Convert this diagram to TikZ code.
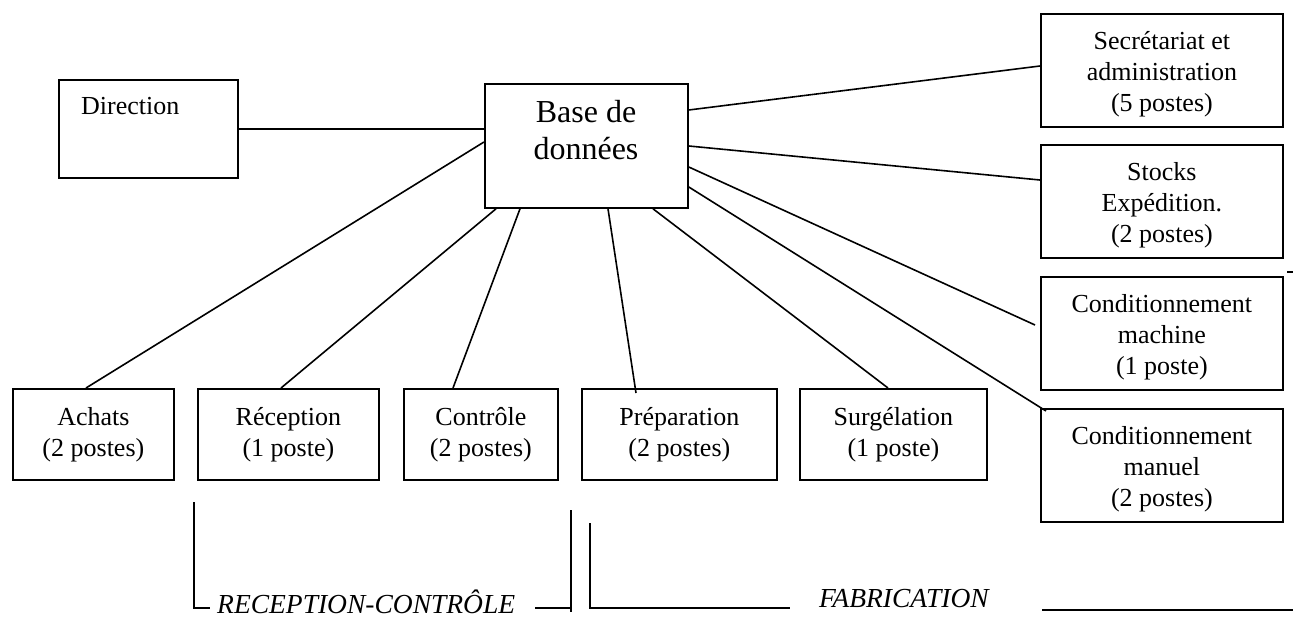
\documentclass[tikz,border=0pt]{standalone}
\usepackage{fontspec}
\setmainfont{Liberation Serif}
\usetikzlibrary{calc}
\newcommand{\toppad}{\rule{0pt}{26pt}}
\begin{document}
\begin{tikzpicture}[x=1pt,y=-1pt,
  box/.style={draw, line width=1.8pt, inner sep=0pt, anchor=north west, align=center,
              font=\fontsize{26}{31}\selectfont},
  txt/.style={inner sep=0pt, font=\fontsize{26}{31}\selectfont},
  conn/.style={line width=1.6pt},
  lbl/.style={inner sep=0pt, anchor=base west, font=\fontsize{27.5}{30}\selectfont\itshape}]
\useasboundingbox (0,0) rectangle (1293,617);
% top boxes
\node[box, minimum width=179, minimum height=98] (dir) at (58,79) {};
\node[txt, anchor=base west] (dirt) at (81,115) {Direction};
\node[box, minimum width=203, minimum height=124] (base) at (484,83) {};
\node[inner sep=0pt, align=center, font=\fontsize{32}{37}\selectfont] (baset) at (586,130.5) {Base de\\données};
% right column
\node[box, minimum width=242, minimum height=113] (sec) at (1040,13) {\toppad Secrétariat et\\administration\\(5 postes)};
\node[box, minimum width=242, minimum height=113] (sto) at (1040,144) {\toppad Stocks\\Expédition.\\(2 postes)};
\node[box, minimum width=242, minimum height=113] (cma) at (1040,276) {\toppad Conditionnement\\machine\\(1 poste)};
\node[box, minimum width=242, minimum height=113] (cmn) at (1040,408) {\toppad Conditionnement\\manuel\\(2 postes)};
% bottom row
\node[box, minimum width=161, minimum height=91] (ach) at (12,388) {Achats\\(2 postes)};
\node[box, minimum width=181, minimum height=91] (rec) at (197,388) {Réception\\(1 poste)};
\node[box, minimum width=154, minimum height=91] (con) at (403,388) {Contrôle\\(2 postes)};
\node[box, minimum width=195, minimum height=91] (pre) at (581,388) {Préparation\\(2 postes)};
\node[box, minimum width=187, minimum height=91] (sur) at (799,388) {Surgélation\\(1 poste)};
% connectors
\draw[conn] (dir.east) -- (dir.east -| base.west);
\draw[conn] ($(base.north west)+(0,59)$) -- ($(ach.north west)+(74,0)$);
\draw[conn] ($(base.south west)+(12,0)$) -- ($(rec.north west)+(84,0)$);
\draw[conn] ($(base.south west)+(36,0)$) -- ($(con.north west)+(50,0)$);
\draw[conn] ($(base.south west)+(124,0)$) -- ($(pre.north west)+(55,5)$);
\draw[conn] ($(base.south west)+(169,0)$) -- ($(sur.north west)+(89,0)$);
\draw[conn] ($(base.north east)+(0,104)$) -- ($(cmn.north west)+(6,3)$);
\draw[conn] ($(base.north east)+(0,84)$) -- ($(cma.north west)+(-5,49)$);
\draw[conn] ($(base.north east)+(0,63)$) -- ($(sto.north west)+(0,36)$);
\draw[conn] ($(base.north east)+(0,27)$) -- ($(sec.north west)+(0,53)$);
% small tick
\coordinate (tickA) at (1287,272);
\coordinate (tickB) at (1293,272);
\draw[line width=1.2pt] (tickA) -- (tickB);
% bracket labels
\node[lbl] (rct) at (217,613) {RECEPTION-CONTRÔLE};
\node[lbl] (fabt) at (819,607) {FABRICATION};
\coordinate (rc1) at (194,502);
\coordinate (rc2) at (194,608);
\coordinate (rc3) at (210,608);
\draw[conn] (rc1) -- (rc2) -- (rc3);
\coordinate (rc4) at (535,608);
\coordinate (rc5) at (571,608);
\coordinate (rc6) at (571,510);
\coordinate (rc7) at (571,612);
\draw[conn] (rc4) -- (rc5);
\draw[conn] (rc6) -- (rc7);
\coordinate (fb1) at (590,523);
\coordinate (fb2) at (590,608);
\coordinate (fb3) at (790,608);
\draw[conn] (fb1) -- (fb2) -- (fb3);
\coordinate (fb4) at (1042,610);
\coordinate (fb5) at (1293,610);
\draw[conn] (fb4) -- (fb5);
\end{tikzpicture}
\end{document}
